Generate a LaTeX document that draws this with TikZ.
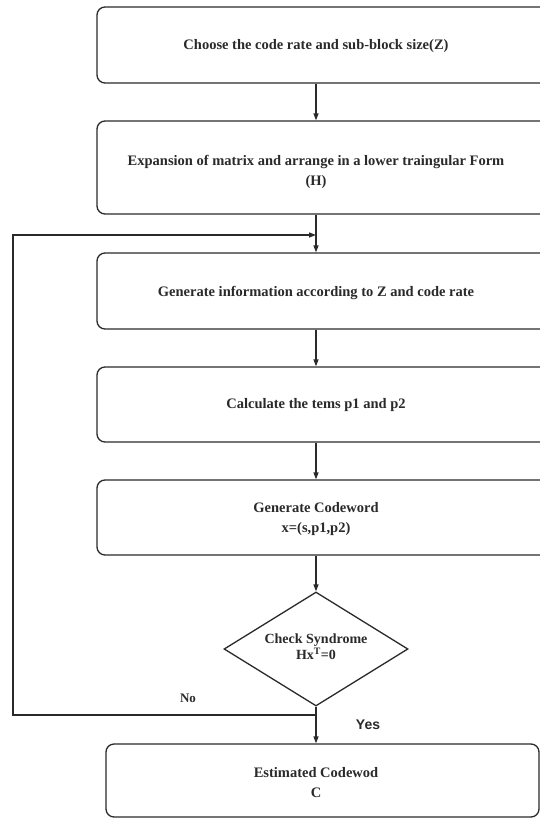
\documentclass[tikz,border=0pt]{standalone}
\usepackage{fontspec}
\setmainfont{Liberation Serif}
\newfontfamily\yesfont{Liberation Sans}
\usetikzlibrary{shapes.geometric,arrows.meta}
\definecolor{ink}{HTML}{2A2A2A}
\tikzset{
  box/.style={draw=ink, line width=1.3pt, rounded corners=8pt, inner sep=0pt},
  txt/.style={text=ink, font=\bfseries\fontsize{14.5}{20}\selectfont, align=center, inner sep=0pt},
  line/.style={draw=ink, line width=1.3pt},
  arr/.style={line, -{Triangle[length=7pt,width=5pt]}},
}
\begin{document}
\begin{tikzpicture}[x=1pt,y=-1pt]
\useasboundingbox (0,0) rectangle (540,819);
\clip (0,0) rectangle (540,819);
\fill[white] (0,0) rectangle (540,819);
% boxes
\node[box, minimum width=453pt, minimum height=76pt] (b1) at (323.5,45) {};
\node[box, minimum width=453pt, minimum height=93pt] (b2) at (323.5,167.5) {};
\node[box, minimum width=453pt, minimum height=76pt] (b3) at (323.5,291) {};
\node[box, minimum width=453pt, minimum height=75pt] (b4) at (323.5,404.5) {};
\node[box, minimum width=453pt, minimum height=75pt] (b5) at (323.5,517.5) {};
\node[draw=ink, line width=1.3pt, diamond, aspect=1.6, minimum width=184pt, minimum height=114pt, inner sep=0pt] (d) at (316,649) {};
\node[box, minimum width=433pt, minimum height=73pt] (b6) at (322.5,780.5) {};
% texts
\node[txt] (t1) at (316,46) {Choose the code rate and sub-block size(Z)};
\node[txt] (t2) at (316,172) {Expansion of matrix and arrange in a lower traingular Form\\(H)};
\node[txt] (t3) at (316,293) {Generate information according to Z and code rate};
\node[txt] (t4) at (316,405) {Calculate the tems p1 and p2};
\node[txt] (t5) at (316,519) {Generate Codeword\\x=(s,p1,p2)};
\node[txt, font=\bfseries\fontsize{14}{13}\selectfont] (td) at (316,647) {Check Syndrome\\Hx\textsuperscript{T}=0};
\node[txt] (t6) at (316,783) {Estimated Codewod\\C};
% connectors
\coordinate (j1) at (316,235);
\coordinate (j2) at (316,715);
\coordinate (l1) at (13,715);
\coordinate (l2) at (13,235);
\draw[arr] (b1.south -| j1) -- (b2.north -| j1);
\draw[arr] (b2.south -| j1) -- (b3.north -| j1);
\draw[arr] (b3.south -| j1) -- (b4.north -| j1);
\draw[arr] (b4.south -| j1) -- (b5.north -| j1);
\draw[arr] (b5.south -| j1) -- (d.north);
\draw[arr] (d.south) -- (b6.north -| j2);
\draw[arr] (j2) -- (l1) -- (l2) -- (j1);
% labels
\node[text=ink, font=\bfseries\fontsize{13}{15}\selectfont, inner sep=0pt] (no) at (188,698) {No};
\node[text=ink, font=\yesfont\bfseries\fontsize{14}{16}\selectfont, inner sep=0pt] (yes) at (368,725) {Yes};
\end{tikzpicture}
\end{document}
